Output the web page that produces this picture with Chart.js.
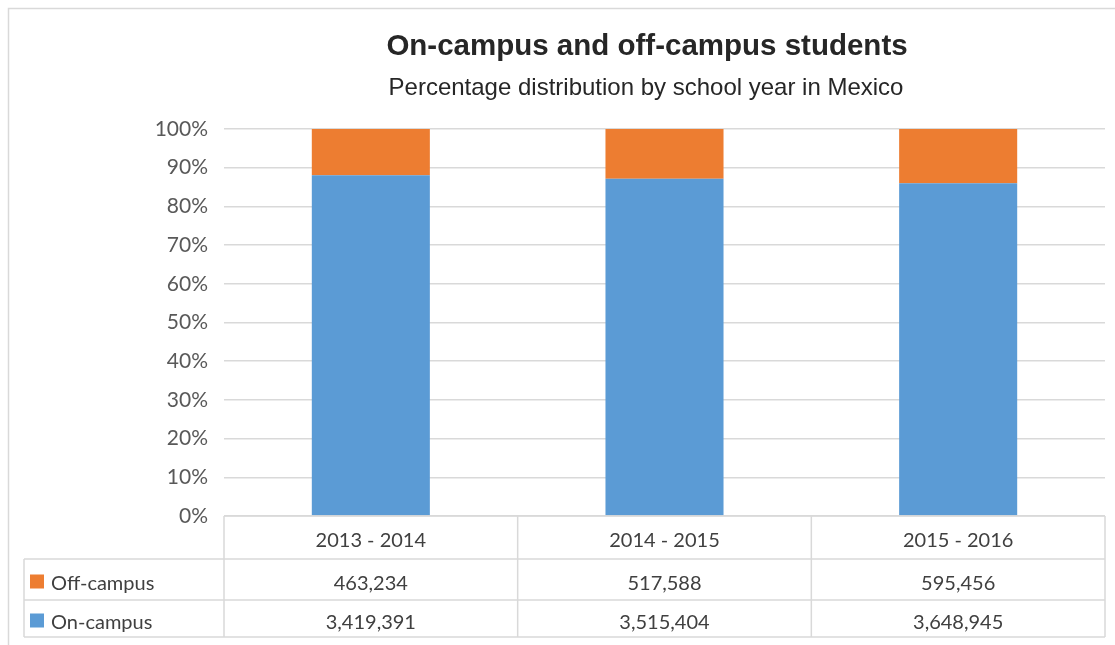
<!DOCTYPE html>
<html>
<head>
<meta charset="utf-8">
<script src="https://cdn.jsdelivr.net/npm/chart.js@4"></script>
<style>
html,body{margin:0;padding:0;background:#fff;}
#wrap{width:1115px;height:645px;position:relative;}
</style>
</head>
<body>
<div id="wrap"><canvas id="c" width="1115" height="645"></canvas></div>
<script>
const categories = ["2013 - 2014", "2014 - 2015", "2015 - 2016"];
const offCampus = [463234, 517588, 595456];
const onCampus = [3419391, 3515404, 3648945];
const seriesNames = ["Off-campus", "On-campus"];
const yTicks = [0, 10, 20, 30, 40, 50, 60, 70, 80, 90, 100];
const titleText = "On-campus and off-campus students";
const subtitleText = "Percentage distribution by school year in Mexico";

const ORANGE = "#ED7D31", BLUE = "#5B9BD5";
const totals = categories.map((_, i) => offCampus[i] + onCampus[i]);
const onPct = onCampus.map((v, i) => v / totals[i] * 100);
const offPct = offCampus.map((v, i) => v / totals[i] * 100);
const fmt = n => n.toLocaleString("en-US");

const FONT = "Lato, 'Open Sans', sans-serif";

const decor = {
  id: "decor",
  beforeDraw(chart) {
    const ctx = chart.ctx;
    ctx.save();
    ctx.fillStyle = "#fff";
    ctx.fillRect(0, 0, chart.width, chart.height);
    ctx.strokeStyle = "#d9d9d9";
    ctx.lineWidth = 1.5;
    ctx.beginPath();
    ctx.moveTo(8.5, chart.height + 2);
    ctx.lineTo(8.5, 8.5);
    ctx.lineTo(chart.width + 2, 8.5);
    ctx.stroke();
    ctx.restore();
  },
  afterDraw(chart) {
    const ctx = chart.ctx;
    const a = chart.chartArea;
    const xs = chart.scales.x;
    ctx.save();
    ctx.textAlign = "center";
    ctx.textBaseline = "middle";
    ctx.fillStyle = "#262626";
    ctx.font = "bold 29.5px 'Liberation Sans', Arial, sans-serif";
    ctx.fillText(titleText, 647, 47);
    ctx.font = "24px 'Liberation Sans', Arial, sans-serif";
    ctx.fillText(subtitleText, 646, 88);

    const top = a.bottom, r1 = 559, r2 = 600, bot = 637, leftCol = 24;
    const n = categories.length;
    const step = (a.right - a.left) / n;
    const colEdges = [];
    for (let i = 0; i <= n; i++) colEdges.push(a.left + step * i);
    ctx.strokeStyle = "#d9d9d9";
    ctx.lineWidth = 1.5;
    ctx.beginPath();
    ctx.moveTo(a.left, top); ctx.lineTo(a.right, top);
    [r1, r2, bot].forEach(y => { ctx.moveTo(leftCol, y); ctx.lineTo(a.right, y); });
    ctx.moveTo(leftCol, r1); ctx.lineTo(leftCol, bot);
    colEdges.forEach(x => { ctx.moveTo(x, top); ctx.lineTo(x, bot); });
    ctx.stroke();

    ctx.fillStyle = "#404040";
    ctx.font = "20px " + FONT;
    ctx.textAlign = "center";
    categories.forEach((c, i) => {
      const cx = xs.getPixelForValue(i);
      ctx.fillText(c, cx, (top + r1) / 2 + 3);
      ctx.fillText(fmt(offCampus[i]), cx, (r1 + r2) / 2 + 4);
      ctx.fillText(fmt(onCampus[i]), cx, (r2 + bot) / 2 + 4);
    });
    ctx.textAlign = "left";
    const rows = [[seriesNames[0], ORANGE, (r1 + r2) / 2], [seriesNames[1], BLUE, (r2 + bot) / 2]];
    rows.forEach(([name, col, y]) => {
      ctx.fillStyle = col;
      ctx.fillRect(30, y - 5, 14, 14);
      ctx.fillStyle = "#404040";
      ctx.fillText(name, 51, y + 4);
    });
    ctx.restore();
  }
};

new Chart(document.getElementById("c"), {
  type: "bar",
  data: {
    labels: categories,
    datasets: [
      { label: seriesNames[1], data: onPct, backgroundColor: BLUE, stack: "s" },
      { label: seriesNames[0], data: offPct, backgroundColor: ORANGE, stack: "s" }
    ]
  },
  options: {
    responsive: false,
    animation: false,
    devicePixelRatio: 1,
    layout: { padding: { left: 0, top: 129, right: 10, bottom: 129 } },
    plugins: { legend: { display: false }, tooltip: { enabled: false }, title: { display: false } },
    datasets: { bar: { categoryPercentage: 1.0, barPercentage: 0.402 } },
    scales: {
      x: {
        stacked: true,
        grid: { display: false, drawTicks: false },
        border: { display: false },
        ticks: { display: false }
      },
      y: {
        stacked: true,
        min: 0, max: 100,
        afterBuildTicks: s => { s.ticks = yTicks.map(v => ({ value: v })); },
        afterFit: s => { s.width = 224; },
        grid: { color: "#d9d9d9", lineWidth: 1.5, drawTicks: false },
        border: { display: false },
        ticks: {
          padding: 16,
          color: "#595959",
          font: { family: FONT, size: 21 },
          callback: v => v + "%"
        }
      }
    }
  },
  plugins: [decor]
});
</script>
</body>
</html>
